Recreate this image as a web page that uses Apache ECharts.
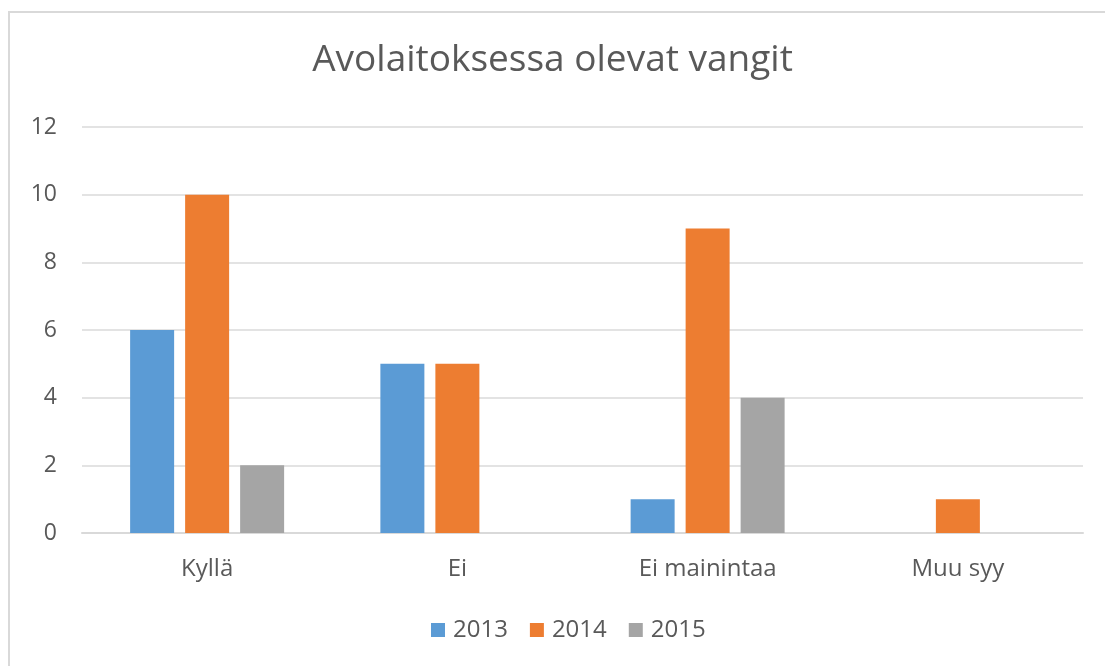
<!DOCTYPE html>
<html>
<head>
<meta charset="utf-8">
<script src="https://cdn.jsdelivr.net/npm/echarts@6/dist/echarts.min.js"></script>
<style>
    html, body { margin: 0; padding: 0; background: #fff; }
    #frame { position: absolute; left: 8px; top: 11px; width: 1200px; height: 700px;
        border-left: 2px solid #d9d9d9; border-top: 2px solid #d9d9d9; }
    #main { position: absolute; left: 0; top: 0; width: 1105px; height: 666px; }
</style>
</head>
<body>
<div id="frame"></div>
<div id="main"></div>
<script>
    var categories = ['Kyllä', 'Ei', 'Ei mainintaa', 'Muu syy'];
    var years = ['2013', '2014', '2015'];
    var values2013 = [6, 5, 1, 0];
    var values2014 = [10, 5, 9, 1];
    var values2015 = [2, 0, 4, 0];
    var colors = ['#5B9BD5', '#ED7D31', '#A5A5A5'];

    var font = '"Open Sans", Lato, sans-serif';
    var chart = echarts.init(document.getElementById('main'));

    var seriesData = [values2013, values2014, values2015];
    var series = [];
    for (var i = 0; i < years.length; i++) {
        series.push({
            name: years[i],
            type: 'bar',
            barWidth: 44,
            barGap: '25%',
            itemStyle: {color: colors[i]},
            data: seriesData[i]
        });
    }

    chart.setOption({
        backgroundColor: 'transparent',
        title: {
            text: 'Avolaitoksessa olevat vangit',
            left: 'center',
            top: 37,
            textStyle: {fontFamily: font, fontSize: 37, fontWeight: 'normal', color: '#595959'}
        },
        legend: {
            bottom: 19,
            left: 426,
            itemWidth: 14,
            itemHeight: 14,
            itemGap: 22,
            icon: 'rect',
            textStyle: {fontFamily: font, fontSize: 24, color: '#595959', padding: [0, 0, 0, 3]},
            data: years
        },
        grid: {left: 82, right: 22, top: 127, bottom: 133},
        xAxis: {
            type: 'category',
            data: categories,
            axisLine: {lineStyle: {color: '#d9d9d9', width: 2}},
            axisTick: {show: false},
            axisLabel: {fontFamily: font, fontSize: 24, color: '#595959', margin: 24}
        },
        yAxis: {
            type: 'value',
            min: 0,
            max: 12,
            interval: 2,
            axisLine: {show: false},
            axisTick: {show: false},
            splitLine: {lineStyle: {color: '#e3e3e3', width: 2}},
            axisLabel: {fontFamily: font, fontSize: 23, color: '#595959', margin: 25}
        },
        series: series
    });
</script>
</body>
</html>
